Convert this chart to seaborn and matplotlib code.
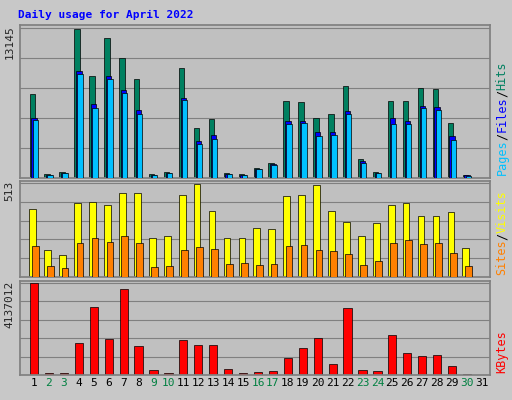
import numpy as np
import matplotlib.pyplot as plt
import seaborn as sns

sns.set_theme(style="white")
plt.rcParams['font.family'] = ['DejaVu Sans Mono']

days = np.arange(1, 32)
hits = [7372, 355, 530, 13055, 8970, 12256, 10480, 8700, 355, 530, 9680, 4352, 5150, 444, 355,
        888, 1332, 6750, 6660, 5240, 5595, 8080, 1690, 530, 6750, 6750, 7900, 7816, 4800, 266, 0]
files = [5240, 300, 450, 9415, 6480, 8970, 7727, 5950, 300, 450, 7016, 3286, 3730, 380, 300,
         800, 1200, 4970, 4970, 4000, 4000, 5860, 1500, 450, 5240, 5000, 6300, 6200, 3640, 220, 0]
pages = [5060, 280, 420, 9150, 6120, 8700, 7450, 5600, 280, 420, 6840, 3020, 3460, 350, 280,
         760, 1150, 4700, 4790, 3640, 3730, 5600, 1330, 420, 4700, 4700, 6120, 5950, 3370, 200, 0]
visits = [370, 149, 121, 403, 408, 392, 458, 458, 210, 226, 447, 507, 358, 215, 210,
          265, 259, 441, 447, 502, 358, 298, 226, 292, 392, 403, 331, 331, 353, 160, 0]
sites = [171, 61, 50, 188, 210, 193, 221, 188, 55, 61, 149, 165, 154, 72, 77,
         66, 72, 171, 176, 149, 143, 127, 66, 88, 188, 199, 182, 188, 132, 61, 0]
kbytes = [4137012, 92000, 70000, 1425000, 3034000, 1609000, 3861000, 1287000, 230000, 92000,
          1563000, 1333000, 1333000, 276000, 92000, 138000, 184000, 781000, 1195000, 1655000,
          506000, 2988000, 230000, 184000, 1793000, 966000, 874000, 920000, 414000, 46000, 0]
weekend = {2, 3, 9, 10, 16, 17, 23, 24, 30}

fig = plt.figure(figsize=(5.12, 4.0), dpi=100, facecolor='#c8c8c8')
xl = (0.06, 31.54)
panels = [(0.555, 0.3825), (0.3075, 0.24), (0.0625, 0.235)]
axes = [fig.add_axes([20/512, b, 470/512, h]) for b, h in panels]

def style(ax, top):
    ax.set_facecolor('#c0c0c0')
    ax.set_xlim(*xl)
    ax.set_ylim(0, top * 1.02)
    ax.set_yticks([])
    ax.set_xticks([])
    for s in ax.spines.values():
        s.set_color('#808080')
    for f in np.linspace(0, top, 6)[1:]:
        ax.axhline(f, color='#808080', lw=0.8, zorder=0)

w = 0.36
ax = axes[0]
style(ax, 13145)
ax.bar(days - 0.12, hits, w, color='#008060', edgecolor='black', lw=0.5, zorder=2)
ax.bar(days, files, w, color='#0000ff', edgecolor='black', lw=0.5, zorder=3)
ax.bar(days + 0.08, pages, w, color='#00c0ff', edgecolor='black', lw=0.5, zorder=4)

ax = axes[1]
style(ax, 513)
ax.bar(days - 0.08, visits, 0.45, color='#ffff00', edgecolor='black', lw=0.5, zorder=2)
ax.bar(days + 0.08, sites, 0.45, color='#ff8000', edgecolor='black', lw=0.5, zorder=3)

ax = axes[2]
style(ax, 4137012)
ax.bar(days, kbytes, 0.55, color='#ff0000', edgecolor='black', lw=0.5, zorder=2)
ax.set_xticks(days)
ax.set_xticklabels([str(d) for d in days], fontsize=8)
ax.tick_params(axis='x', length=0, pad=2)
for lbl, d in zip(ax.get_xticklabels(), days):
    lbl.set_color('#008040' if d in weekend else 'black')

for a, t in zip(axes, ['13145', '513', '4137012']):
    a.text(-0.012, 1.0, t, transform=a.transAxes, rotation=90, ha='right', va='top', fontsize=8)

def side(a, parts, fs=8.5):
    h_px = a.get_position().height * 400
    ch = fs * 0.6 * 100 / 72
    y = 0.02
    for txt, col in parts:
        a.text(1.012, y, txt, transform=a.transAxes, rotation=90, ha='left', va='bottom',
               fontsize=fs, color=col)
        y += len(txt) * ch / h_px

side(axes[0], [('Pages', '#00c0ff'), ('/', 'black'), ('Files', '#0000ff'), ('/', 'black'), ('Hits', '#008060')])
side(axes[1], [('Sites', '#ff8000'), ('/', 'black'), ('Visits', '#ffff00')])
side(axes[2], [('KBytes', '#ff0000')])

fig.text(18/512, 1 - 15/400, 'Daily usage for April 2022', color='#0000ff', fontsize=8,
         fontweight='bold', va='center')

fig.savefig('out.png', dpi=100, facecolor=fig.get_facecolor())
